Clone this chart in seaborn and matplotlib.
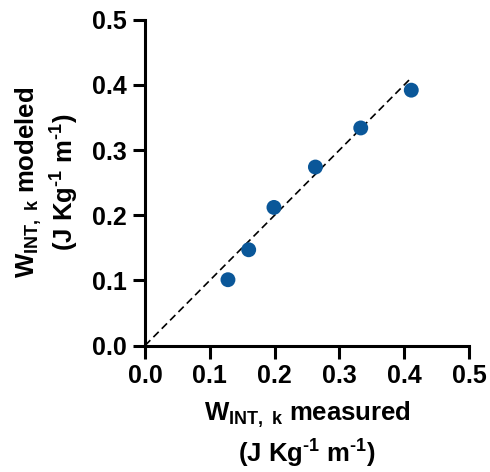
import matplotlib

matplotlib.use("Agg")
import matplotlib.pyplot as plt
import numpy as np
import pandas as pd
import seaborn as sns

# values
measured = [0.128, 0.160, 0.199, 0.263, 0.333, 0.411]
modeled = [0.101, 0.147, 0.212, 0.274, 0.334, 0.392]
tick_values = [0.0, 0.1, 0.2, 0.3, 0.4, 0.5]
tick_labels = ["0.0", "0.1", "0.2", "0.3", "0.4", "0.5"]

df = pd.DataFrame({"measured": measured, "modeled": modeled})
identity = pd.DataFrame({"x": [0.0, max(measured)], "y": [0.0, max(measured)]})

sns.set_style("ticks")
plt.rcParams["font.family"] = ["Liberation Sans", "DejaVu Sans"]
plt.rcParams["font.weight"] = "bold"
plt.rcParams["text.color"] = "black"
plt.rcParams["axes.labelcolor"] = "black"
plt.rcParams["xtick.color"] = "black"
plt.rcParams["ytick.color"] = "black"
plt.rcParams["mathtext.fontset"] = "custom"
plt.rcParams["mathtext.rm"] = "Liberation Sans:bold"
plt.rcParams["mathtext.it"] = "Liberation Sans:bold"
plt.rcParams["mathtext.bf"] = "Liberation Sans:bold"
plt.rcParams["mathtext.sf"] = "Liberation Sans:bold"

fig = plt.figure(figsize=(4.9, 4.72), dpi=100)
ax = fig.add_axes([0.296, 0.268, 0.661, 0.69])

sns.lineplot(data=identity, x="x", y="y", ax=ax, color="black",
             linewidth=1.2, linestyle=(0, (4.5, 2.6)))
sns.scatterplot(data=df, x="measured", y="modeled", ax=ax, s=115,
                color="#0a5799", edgecolor="none", zorder=3)

ax.set_xlim(0, 0.5)
ax.set_ylim(0, 0.5)
ax.set_xticks(tick_values)
ax.set_xticklabels(tick_labels)
ax.set_yticks(tick_values)
ax.set_yticklabels(tick_labels)

sns.despine(ax=ax)
for side in ["left", "bottom"]:
    ax.spines[side].set_linewidth(2.2)
    ax.spines[side].set_color("black")
ax.tick_params(axis="both", direction="out", length=9, width=2.2,
               labelsize=18, pad=4)
for lbl in ax.get_xticklabels() + ax.get_yticklabels():
    lbl.set_fontweight("bold")

xlab = "W$_{\\mathrm{INT,\\ k}}$ measured\n(J Kg$^{\\text{-1}}$ m$^{\\text{-1}}$)"
ylab = "W$_{\\mathrm{INT,\\ k}}$ modeled\n(J Kg$^{\\text{-1}}$ m$^{\\text{-1}}$)"
ax.set_xlabel(xlab, fontsize=18.5, fontweight="bold", labelpad=9, linespacing=1.3)
ax.set_ylabel(ylab, fontsize=18.5, fontweight="bold", labelpad=8, linespacing=1.2)

plt.savefig("out.png", dpi=100)
plt.close()
